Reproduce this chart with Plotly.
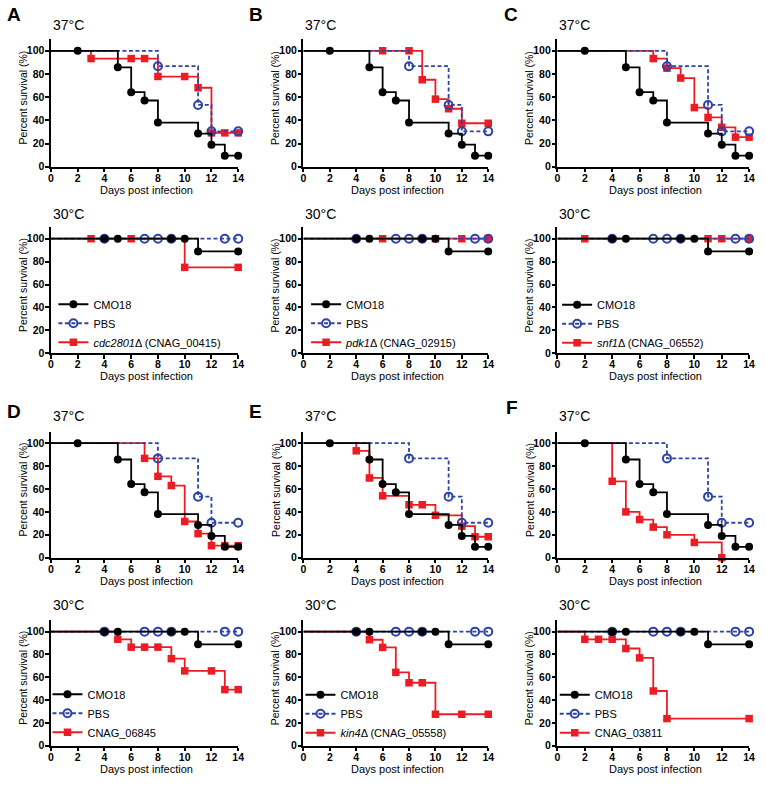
import plotly.graph_objects as go

# ---------------- data ----------------
X_TICKS = [0, 2, 4, 6, 8, 10, 12, 14]
Y_TICKS = [0, 20, 40, 60, 80, 100]
PANEL_LETTERS = ["A", "B", "C", "D", "E", "F"]
TEMPS = ["37°C", "30°C"]
CONTROL_NAMES = ["CMO18", "PBS"]
MUTANT_NAMES = [
    "<i>cdc2801</i>Δ (CNAG_00415)",
    "<i>pdk1</i>Δ (CNAG_02915)",
    "<i>snf1</i>Δ (CNAG_06552)",
    "CNAG_06845",
    "<i>kin4</i>Δ (CNAG_05558)",
    "CNAG_03811",
]

DAYS_CMO18_37 = [0, 2, 5, 6, 7, 8, 11, 12, 13, 14]
SURV_CMO18_37 = [100, 100, 85.7, 64.3, 57.1, 38.1, 28.6, 19.0, 9.5, 9.5]
DAYS_PBS_37 = [0, 8, 11, 12, 14]
SURV_PBS_37 = [100, 86.7, 53.3, 30.5, 30.5]
DAYS_CMO18_30 = [0, 4, 5, 9, 10, 11, 14]
SURV_CMO18_30 = [100, 100, 100, 100, 100, 88.9, 88.9]
DAYS_PBS_30 = [0, 4, 7, 8, 9, 13, 14]
SURV_PBS_30 = [100, 100, 100, 100, 100, 100, 100]

DAYS_A_37 = [0, 3, 6, 7, 8, 10, 11, 12, 13, 14]
SURV_A_37 = [100, 93.3, 93.3, 93.3, 77.8, 77.8, 68.1, 29.2, 29.2, 29.2]
DAYS_A_30 = [0, 3, 6, 10, 14]
SURV_A_30 = [100, 100, 100, 75, 75]

DAYS_B_37 = [0, 6, 8, 9, 10, 11, 12, 14]
SURV_B_37 = [100, 100, 100, 75, 58.3, 50, 37.5, 37.5]
DAYS_B_30 = [0, 6, 10, 12, 14]
SURV_B_30 = [100, 100, 100, 100, 100]

DAYS_C_37 = [0, 7, 8, 9, 10, 11, 12, 13, 14]
SURV_C_37 = [100, 93.3, 85, 76.5, 51, 42.5, 34, 25.5, 25.5]
DAYS_C_30 = [0, 2, 11, 12, 14]
SURV_C_30 = [100, 100, 100, 100, 100]

DAYS_D_37 = [0, 7, 8, 9, 10, 11, 12, 13, 14]
SURV_D_37 = [100, 86.7, 71, 63, 31.6, 21, 10.5, 10.5, 10.5]
DAYS_D_30 = [0, 5, 6, 7, 8, 9, 10, 12, 13, 14]
SURV_D_30 = [100, 93.3, 86.4, 86.4, 86.4, 76.3, 65.6, 65.6, 49.2, 49.2]

DAYS_E_37 = [0, 4, 5, 6, 8, 9, 10, 12, 13, 14]
SURV_E_37 = [100, 93.3, 69.6, 54, 46.2, 46.2, 37, 27.5, 18.3, 18.3]
DAYS_E_30 = [0, 5, 6, 7, 8, 9, 10, 12, 14]
SURV_E_30 = [100, 92.9, 86.2, 64.3, 55.2, 55.2, 27.6, 27.6, 27.6]

DAYS_F_37 = [0, 4, 5, 6, 7, 8, 10, 12]
SURV_F_37 = [100, 66.7, 40, 33.3, 26.7, 20, 13.3, 0]
DAYS_F_30 = [0, 2, 3, 4, 5, 6, 7, 8, 14]
SURV_F_30 = [100, 93.3, 93.3, 93.3, 85.2, 77, 48, 23.8, 23.8]

MUTANT_DATA = [
    ((DAYS_A_37, SURV_A_37), (DAYS_A_30, SURV_A_30)),
    ((DAYS_B_37, SURV_B_37), (DAYS_B_30, SURV_B_30)),
    ((DAYS_C_37, SURV_C_37), (DAYS_C_30, SURV_C_30)),
    ((DAYS_D_37, SURV_D_37), (DAYS_D_30, SURV_D_30)),
    ((DAYS_E_37, SURV_E_37), (DAYS_E_30, SURV_E_30)),
    ((DAYS_F_37, SURV_F_37), (DAYS_F_30, SURV_F_30)),
]
CONTROL_DATA = [
    ((DAYS_CMO18_37, SURV_CMO18_37), (DAYS_PBS_37, SURV_PBS_37)),
    ((DAYS_CMO18_30, SURV_CMO18_30), (DAYS_PBS_30, SURV_PBS_30)),
]

# ---------------- layout geometry (pixels) ----------------
W, H = 766, 785
COL_PX = [(48.5, 238), (304, 491), (561, 755)]
ROW_PX = [(168, 39.5), (356, 229), (562, 435), (751.5, 625)]  # (y at 0, y at 110)
LETTER_PX = [(2, 15), (247, 15), (505, 15), (2, 415), (247, 415), (507, 411)]
TEMP_Y_PX = [25.5, 215.5, 419, 610]
LEGEND_PX = [(61, 305.5), (316.7, 305.5), (570.7, 306), (55, 698.5), (311, 699), (568.3, 699)]

FONT = "Liberation Sans"
BLACK = "#000000"
BLUE = "#2E43A6"
RED = "#EC1C24"

STYLES = {
    "CMO18": dict(line=dict(color=BLACK, width=1.8),
                  marker=dict(symbol="circle", color=BLACK, size=8, line=dict(width=0))),
    "PBS": dict(line=dict(color=BLUE, width=1.8, dash="4px,2.5px"),
                marker=dict(symbol="circle-open", color=BLUE, size=8, line=dict(width=2, color=BLUE))),
    "MUT": dict(line=dict(color=RED, width=1.8),
                marker=dict(symbol="square", color=RED, size=7.5, line=dict(width=0))),
}

fig = go.Figure()
annotations = []
layout_axes = {}


def px2x(p):
    return p / W


def px2y(p):
    return 1 - p / H


def add_curve(days, surv, style, xa, ya, name=None, legend=None, rank=None):
    st = STYLES[style]
    fig.add_trace(go.Scatter(x=days, y=surv, mode="lines", line=dict(st["line"], shape="hv"),
                             xaxis=xa, yaxis=ya, showlegend=False, hoverinfo="skip",
                             cliponaxis=False))
    fig.add_trace(go.Scatter(x=days[1:], y=surv[1:], mode="markers", marker=st["marker"],
                             xaxis=xa, yaxis=ya, showlegend=False, cliponaxis=False))
    if legend is not None:
        fig.add_trace(go.Scatter(x=[None], y=[None], mode="lines+markers", name=name,
                                 line=st["line"], marker=st["marker"], legend=legend,
                                 legendrank=rank, xaxis=xa, yaxis=ya, showlegend=True))


for k in range(6):
    col = k % 3
    block = k // 3
    x0, x14 = COL_PX[col]
    for t in range(2):
        n = 2 * k + t + 1
        row = block * 2 + t
        y0, y110 = ROW_PX[row]
        xa = "x" if n == 1 else f"x{n}"
        ya = "y" if n == 1 else f"y{n}"
        xkey = "xaxis" if n == 1 else f"xaxis{n}"
        ykey = "yaxis" if n == 1 else f"yaxis{n}"
        common = dict(showgrid=False, zeroline=False, showline=True, linecolor=BLACK, linewidth=2,
                      ticks="outside", ticklen=3.5, tickwidth=1.5, tickcolor=BLACK,
                      tickfont=dict(family=FONT, size=10.5, color=BLACK, weight="bold"),
                      fixedrange=True)
        layout_axes[xkey] = dict(common, domain=[px2x(x0), px2x(x14)], range=[0, 14],
                                 tickvals=X_TICKS, anchor=ya, ticklabelstandoff=-3)
        layout_axes[ykey] = dict(common, domain=[px2y(y0), px2y(y110)], range=[0, 110],
                                 tickvals=Y_TICKS, anchor=xa, ticklabelstandoff=-1)

        legend_id = None
        if t == 1:
            legend_id = "legend" if k == 0 else f"legend{k + 1}"

        (cd, cs), (pd_, ps) = CONTROL_DATA[t]
        md, ms = MUTANT_DATA[k][t]
        add_curve(md, ms, "MUT", xa, ya, MUTANT_NAMES[k], legend_id, 3)
        add_curve(pd_, ps, "PBS", xa, ya, CONTROL_NAMES[1], legend_id, 2)
        add_curve(cd, cs, "CMO18", xa, ya, CONTROL_NAMES[0], legend_id, 1)

        # temperature label
        annotations.append(dict(text=TEMPS[t], x=px2x(x0), y=px2y(TEMP_Y_PX[row]),
                                xref="paper", yref="paper", xanchor="left", yanchor="middle",
                                showarrow=False, font=dict(family=FONT, size=14, color=BLACK)))
        # axis titles
        annotations.append(dict(text="Percent survival (%)", x=px2x(x0 - 28.5),
                                y=px2y(y0 - (y0 - y110) * 0.54),
                                xref="paper", yref="paper", xanchor="center", yanchor="middle",
                                textangle=-90, showarrow=False,
                                font=dict(family=FONT, size=10.5, color=BLACK)))
        annotations.append(dict(text="Days post infection", x=px2x((x0 + x14) / 2 + 2),
                                y=px2y(y0 + 23), xref="paper", yref="paper",
                                xanchor="center", yanchor="middle", showarrow=False,
                                font=dict(family=FONT, size=11, color=BLACK)))

    # panel letter
    lx, ly = LETTER_PX[k]
    annotations.append(dict(text=f"<b>{PANEL_LETTERS[k]}</b>", x=px2x(lx), y=px2y(ly),
                            xref="paper", yref="paper", xanchor="left", yanchor="middle",
                            showarrow=False, font=dict(family=FONT, size=19, color=BLACK)))

legends = {}
for k in range(6):
    sx, sy = LEGEND_PX[k]
    key = "legend" if k == 0 else f"legend{k + 1}"
    legends[key] = dict(x=px2x(sx - 10), y=px2y(sy - 3.5 - 10), xanchor="left", yanchor="top",
                        xref="paper", yref="paper", bgcolor="rgba(0,0,0,0)", borderwidth=0,
                        font=dict(family=FONT, size=11, color=BLACK), tracegroupgap=0,
                        traceorder="normal")

fig.update_layout(
    width=W, height=H, autosize=False,
    margin=dict(l=0, r=0, t=0, b=0),
    paper_bgcolor="white", plot_bgcolor="white",
    annotations=annotations,
    **layout_axes,
    **legends,
)

fig.write_html("out.html", config={"displayModeBar": False},
               post_script="document.body.style.margin='0px';document.body.style.overflow='hidden';")
